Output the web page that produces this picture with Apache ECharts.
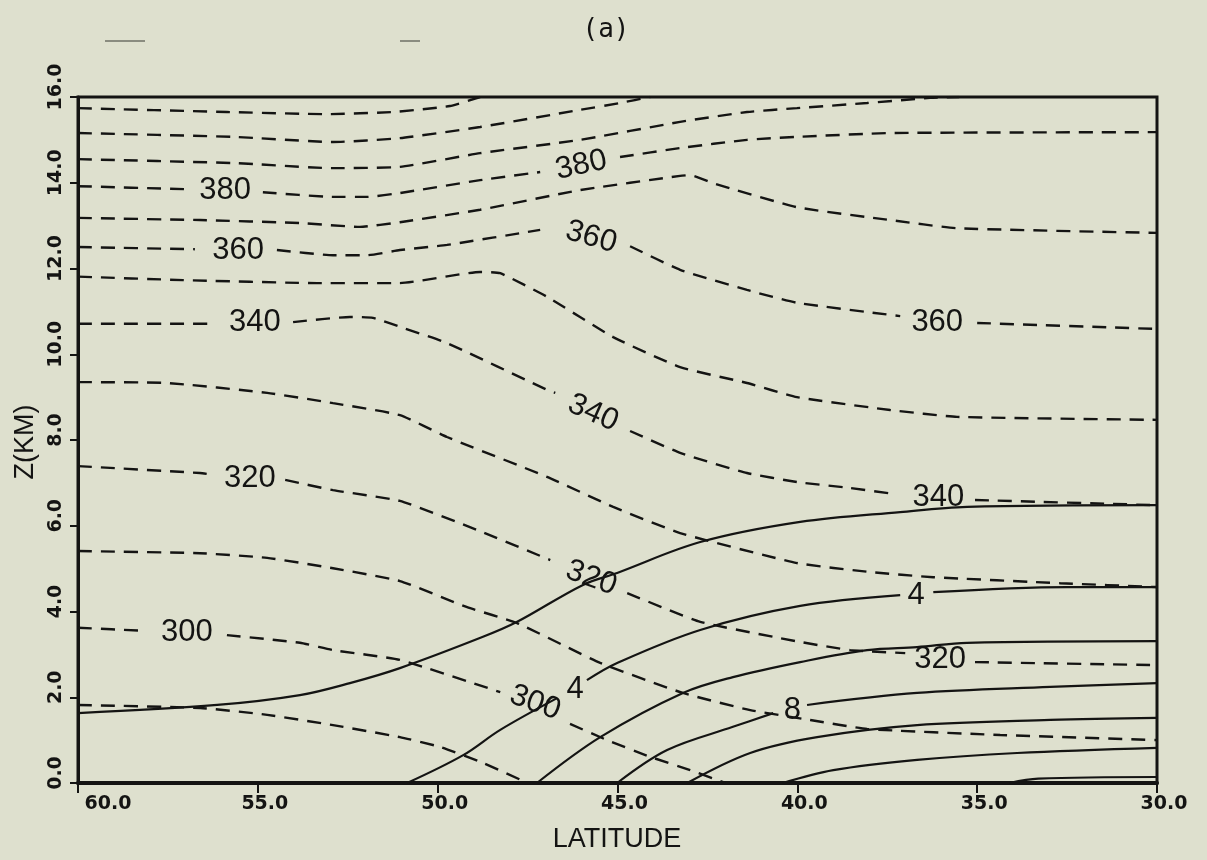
<!DOCTYPE html>
<html>
<head>
<meta charset="utf-8">
<script src="https://cdn.jsdelivr.net/npm/echarts@6/dist/echarts.min.js"></script>
<style>
html,body{margin:0;padding:0;background:#dee0ce;}
#c{width:1207px;height:860px;}
</style>
</head>
<body>
<div id="c"></div>
<script>
// ---------------- DATA (latitude [deg N], height Z [km]) ----------------
// Potential temperature contours (dashed), '-' marks a gap left for a label
const theta290 = [[60,1.82],[56.6,1.75],[54.74,1.59],[52.91,1.35],[51.05,1.07],[49.93,0.84],[48.74,0.47],[47.5,0]];
const theta300 = [[60,3.62],[58.14,3.55],'-',[55.86,3.45],[53.83,3.27],[52.91,3.10],[51.05,2.87],[48.26,2.12],'-',[46.32,1.38],[45.29,1.00],[44.09,0.61],[42.98,0.30],[42.0,0]];
const theta310 = [[60,5.41],[56.61,5.36],[54.74,5.25],[52.91,5.01],[51.05,4.71],[49.18,4.10],[47.79,3.73],[45.48,2.80],[43.18,2.10],[41.31,1.70],[39.64,1.47],[38.06,1.26],[34.36,1.12],[30,1.0]];
const theta320 = [[60,7.39],[56.61,7.23],[56.19,7.18],'-',[54.24,7.07],[52.91,6.83],[51.05,6.58],[48.90,5.90],[46.87,5.20],'-',[44.73,4.43],[42.70,3.76],[39.92,3.29],[38.53,3.10],[37.0,3.03],'-',[35.06,2.82],[30,2.75]];
const theta330 = [[60,9.35],[57.53,9.33],[54.74,9.10],[52.91,8.86],[51.05,8.58],[49.74,8.07],[46.96,7.14],[45.12,6.44],[43.26,5.83],[40.01,5.13],[37.98,4.92],[36.22,4.80],[32.69,4.66],[30,4.57]];
const theta340 = [[60,10.71],[56.19,10.71],'-',[54.02,10.75],[52.44,10.87],[51.80,10.85],[51.05,10.64],[49.74,10.26],[46.96,9.17],[46.73,9.10],'-',[44.65,8.21],[43.26,7.70],[41.40,7.23],[40.01,7.02],[38.53,6.88],[37.28,6.74],'-',[35.06,6.60],[30,6.48]];
const theta350 = [[60,11.81],[57.08,11.73],[53.35,11.66],[51.05,11.66],[48.82,11.92],[48.26,11.89],[46.96,11.34],[45.12,10.40],[43.26,9.70],[41.40,9.33],[40.01,9.00],[37.42,8.70],[35.56,8.54],[30,8.47]];
const theta360 = [[60,12.50],[56.75,12.45],'-',[54.47,12.43],[52.91,12.31],[51.96,12.31],[51.05,12.43],[49.74,12.55],[47.15,12.90],'-',[44.65,12.52],[43.26,11.97],[41.40,11.50],[40.01,11.20],[37.14,10.89],'-',[35.0,10.73],[30,10.59]];
const theta370 = [[60,13.18],[56.61,13.13],[53.83,13.06],[52.16,12.97],[51.05,13.08],[48.82,13.37],[46.04,13.83],[43.26,14.16],[42.98,14.18],[42.34,13.99],[40.01,13.43],[37.42,13.13],[35.56,12.94],[30,12.83]];
const theta380 = [[60,13.92],[57.02,13.85],'-',[54.86,13.78],[52.91,13.67],[51.96,13.67],[51.05,13.76],[48.82,14.06],[47.15,14.25],'-',[44.93,14.60],[43.26,14.81],[41.40,15.00],[40.01,15.07],[37.42,15.16],[30,15.18]];
const theta390 = [[60,14.55],[55.69,14.46],[52.91,14.34],[51.05,14.37],[48.82,14.69],[46.04,15.00],[43.26,15.42],[41.40,15.65],[40.01,15.74],[38.06,15.86],[36.31,15.98],[35.5,16.0]];
const theta400 = [[60,15.16],[55.69,15.07],[52.91,14.95],[51.05,15.04],[48.82,15.30],[46.04,15.70],[44.93,15.86],[44.09,16.0]];
const theta410 = [[60,15.74],[55.86,15.65],[53.08,15.60],[51.24,15.65],[49.66,15.79],[48.82,16.0]];

// Solid contours (labelled 4, 8 ...), '-' marks a gap left for a label
const wind2  = [[60,1.63],[56.13,1.82],[53.83,2.05],[52.44,2.33],[51.05,2.68],[48.74,3.41],[47.79,3.76],[45.96,4.62],[45.01,4.90],[42.70,5.62],[39.92,6.09],[37.14,6.32],[35.28,6.44],[30,6.48]];
const wind4  = [[50.85,0],[49.29,0.65],[48.26,1.24],[46.68,1.98],'-',[45.85,2.40],[45.01,2.80],[42.70,3.57],[39.92,4.13],[37.14,4.38],'-',[36.22,4.45],[32.50,4.57],[30,4.57]];
const wind6  = [[47.24,0],[45.48,1.07],[43.18,2.10],[41.79,2.47],[39.92,2.82],[38.06,3.10],[36.67,3.17],[35.28,3.27],[30,3.31]];
const wind8  = [[45.01,0],[43.62,0.77],[41.79,1.31],[40.67,1.63],'-',[39.73,1.82],[36.67,2.10],[32.97,2.24],[30,2.33]];
const wind10 = [[43.06,0],[41.31,0.70],[39.45,1.07],[36.67,1.35],[32.97,1.47],[30,1.52]];
const wind12 = [[40.40,0],[39.0,0.30],[36.67,0.54],[33.89,0.70],[30,0.82]];
const wind14 = [[34.1,0],[33.3,0.10],[30,0.14]];

// Contour labels: [latitude, Z, text]
const contourLabels = [
  [56.97,3.50,'300'],[47.29,1.87,'300'],
  [55.22,7.11,'320'],[45.73,4.78,'320'],[36.03,2.87,'320'],
  [55.08,10.73,'340'],[45.68,8.63,'340'],[36.08,6.65,'340'],
  [55.55,12.43,'360'],[45.73,12.73,'360'],[36.11,10.75,'360'],
  [55.91,13.81,'380'],[46.01,14.41,'380'],
  [46.18,2.19,'4'],[36.70,4.38,'4'],
  [40.14,1.70,'8']
];

// Axis ticks
const latTicks = [60,55,50,45,40,35,30];
const zTicks = [0,2,4,6,8,10,12,14,16];

// ---------------- STYLE ----------------
const INK = '#141413';
const BG = '#dee0ce';
const labelAngles = [0,-20, 0,-20,0, 0,-24,0, 0,-16,0, 0,12, 0,0, 0];

const thetaSets = [theta290,theta300,theta310,theta320,theta330,theta340,theta350,theta360,theta370,theta380,theta390,theta400,theta410];
const windSets = [wind2,wind4,wind6,wind8,wind10,wind12,wind14];

const series = [];
thetaSets.forEach(d => series.push({
  type:'line', data:d, showSymbol:false, symbol:'none', smooth:0.15, silent:true, z:2,
  connectNulls:false,
  lineStyle:{color:INK, width:2.4, type:[14,9], opacity:1}
}));
windSets.forEach(d => series.push({
  type:'line', data:d, showSymbol:false, symbol:'none', smooth:0.35, silent:true, z:3,
  connectNulls:false,
  lineStyle:{color:INK, width:2.2, type:'solid', opacity:1}
}));
series.push({
  type:'scatter', silent:true, z:5, symbolSize:1,
  itemStyle:{color:'rgba(0,0,0,0)', opacity:1},
  label:{show:true, position:'inside', color:INK, opacity:1, fontSize:31, fontFamily:'Liberation Sans, Arial, sans-serif'},
  emphasis:{disabled:true},
  data: contourLabels.map((l,i) => ({value:[l[0],l[1]], label:{formatter:l[2], rotate:labelAngles[i]}}))
});

const tickFont = {color:INK, fontFamily:'DejaVu Sans, sans-serif', fontWeight:'bold', fontSize:19};

const chart = echarts.init(document.getElementById('c'), null, {renderer:'canvas'});
chart.setOption({
  backgroundColor: BG,
  animation:false,
  grid:{left:78, right:50, top:97, bottom:77, show:true, borderColor:INK, borderWidth:3, backgroundColor:'transparent', containLabel:false, outerBoundsMode:'none'},
  xAxis:{
    type:'value', min:30, max:60, interval:5, inverse:true,
    axisLine:{show:true, onZero:false, lineStyle:{color:INK, width:4}},
    axisTick:{show:true, inside:false, length:10, lineStyle:{color:INK, width:2}},
    splitLine:{show:false},
    axisLabel:Object.assign({
      margin:12, padding:[0,0,0,14],
      formatter: v => v === latTicks[0] ? '{f|' + v.toFixed(1) + '}' : v.toFixed(1),
      rich:{f:Object.assign({padding:[0,0,0,46]}, tickFont)}
    }, tickFont)
  },
  yAxis:{
    type:'value', min:0, max:16, interval:2,
    axisLine:{show:true, onZero:false, lineStyle:{color:INK, width:3}},
    axisTick:{show:true, inside:false, length:8, lineStyle:{color:INK, width:2}},
    splitLine:{show:false},
    axisLabel:Object.assign({
      rotate:90, margin:12, padding:[0,0,0,20],
      formatter: v => v.toFixed(1)
    }, tickFont)
  },
  graphic:[
    {type:'text', x:606, y:30, style:{text:'(a)', fill:INK, font:'26px "DejaVu Sans Mono", monospace', textAlign:'center', textVerticalAlign:'middle'}, silent:true},
    {type:'text', x:26, y:442, rotation:Math.PI/2, style:{text:'Z(KM)', fill:INK, font:'27px "Liberation Sans", Arial, sans-serif', textAlign:'center', textVerticalAlign:'middle'}, silent:true},
    {type:'text', x:617, y:840, style:{text:'LATITUDE', fill:INK, font:'27px "Liberation Sans", Arial, sans-serif', textAlign:'center', textVerticalAlign:'middle'}, silent:true},
    {type:'line', shape:{x1:105,y1:41,x2:145,y2:41}, style:{stroke:'#8a8c80', lineWidth:2}, silent:true},
    {type:'line', shape:{x1:400,y1:41,x2:420,y2:41}, style:{stroke:'#8a8c80', lineWidth:2}, silent:true}
  ],
  series: series
});
</script>
</body>
</html>
